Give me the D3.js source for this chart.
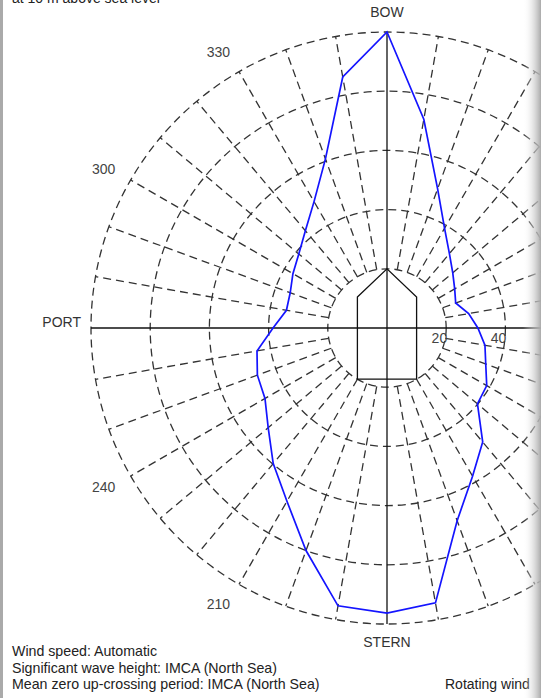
<!DOCTYPE html>
<html>
<head>
<meta charset="utf-8">
<script src="https://cdn.jsdelivr.net/npm/d3@7"></script>
<style>
  body { margin: 0; background: #fff; }
  text { font-family: "Liberation Sans", Arial, sans-serif; }
</style>
</head>
<body>
<div id="chart"></div>
<script>
// headings (degrees, clockwise from bow) and wind response values
const headings = d3.range(0, 360, 10);
const windValues = [100, 71.6, 50, 38.9, 32.8, 29, 26.4, 24.7, 28, 30.7, 33.6, 35.5,
                    38.9, 39.9, 50.3, 57.8, 69.3, 94.3, 96.3, 95.3, 80, 67.6, 59.8, 52.4,
                    47.6, 46.6, 44.6, 38.5, 34.5, 34.8, 36.7, 38.9, 42.9, 49.3, 60.8, 86.1];
const ringTicks = [20, 40, 60, 80, 100];
const ringLabels = [20, 40];
const angleLabels = [210, 240, 300, 330];
const sideLabels = [
    {angle: 0, text: 'BOW'},
    {angle: 180, text: 'STERN'},
    {angle: 270, text: 'PORT'}
];
// ship outline in chart units (x across, y forward)
const shipOutline = [[-10, 10.5], [0, 20], [10, 10.5], [10, -17.3], [-10, -17.3]];
const infoLines = [
    'Wind speed: Automatic',
    'Significant wave height: IMCA (North Sea)',
    'Mean zero up-crossing period: IMCA (North Sea)'
];
const headerText = 'at 10 m above sea level';
const footerRight = 'Rotating wind';

class PolarChart {
    constructor(config) {
        this.config = config;
        this.width = config.width;
        this.height = config.height;
        this.cx = config.cx;
        this.cy = config.cy;
        this.radius = config.radius;
        this.svg = null;
        this.rScale = null;
        this.createSvg();
    }

    createSvg() {
        this.svg = d3.select(this.config.div)
            .append('svg')
            .attr('width', this.width)
            .attr('height', this.height);
        this.svg.append('rect')
            .attr('width', this.width)
            .attr('height', this.height)
            .attr('fill', '#fff');
        this.g = this.svg.append('g')
            .attr('transform', `translate(${this.cx},${this.cy})`);
    }

    createScales() {
        this.rScale = d3.scaleLinear().domain([0, d3.max(ringTicks)]).range([0, this.radius]);
        this.aScale = d3.scaleLinear().domain([0, 360]).range([0, 2 * Math.PI]);
    }

    point(angle, value) {
        const a = this.aScale(angle);
        const r = this.rScale(value);
        return [r * Math.sin(a), -r * Math.cos(a)];
    }

    createGrid() {
        const dash = '8,5';
        this.g.selectAll('circle.ring')
            .data(ringTicks)
            .join('circle')
            .attr('class', 'ring')
            .attr('r', d => this.rScale(d))
            .attr('fill', 'none')
            .attr('stroke', '#333')
            .attr('stroke-width', 1.3)
            .attr('stroke-dasharray', dash);

        const spokes = headings.filter(d => d % 90 !== 0);
        this.g.selectAll('line.spoke')
            .data(spokes)
            .join('line')
            .attr('class', 'spoke')
            .attr('x1', d => this.point(d, ringTicks[0])[0])
            .attr('y1', d => this.point(d, ringTicks[0])[1])
            .attr('x2', d => this.point(d, d3.max(ringTicks))[0])
            .attr('y2', d => this.point(d, d3.max(ringTicks))[1])
            .attr('stroke', '#333')
            .attr('stroke-width', 1.3)
            .attr('stroke-dasharray', dash);

        // solid bow-stern and port-starboard axes
        this.g.selectAll('line.axis')
            .data([[0, 180], [90, 270]])
            .join('line')
            .attr('class', 'axis')
            .attr('x1', d => this.point(d[0], d3.max(ringTicks))[0])
            .attr('y1', d => this.point(d[0], d3.max(ringTicks))[1])
            .attr('x2', d => this.point(d[1], d3.max(ringTicks))[0])
            .attr('y2', d => this.point(d[1], d3.max(ringTicks))[1])
            .attr('stroke', '#111')
            .attr('stroke-width', 1.3);
    }

    createShip() {
        this.g.append('path')
            .attr('d', d3.line()
                .x(d => this.rScale(d[0]))
                .y(d => -this.rScale(d[1]))
                .curve(d3.curveLinearClosed)(shipOutline))
            .attr('fill', 'none')
            .attr('stroke', '#111')
            .attr('stroke-width', 1.3);
    }

    createLabels() {
        this.g.selectAll('text.ringlabel')
            .data(ringLabels)
            .join('text')
            .attr('class', 'ringlabel')
            .attr('x', d => this.rScale(d) + 1)
            .attr('y', 15)
            .attr('text-anchor', 'end')
            .attr('font-size', 14)
            .attr('fill', '#444')
            .text(d => d);

        this.g.selectAll('text.anglelabel')
            .data(angleLabels)
            .join('text')
            .attr('class', 'anglelabel')
            .attr('x', d => this.point(d, 106)[0])
            .attr('y', d => this.point(d, 107.5)[1])
            .attr('text-anchor', 'end')
            .attr('dominant-baseline', 'central')
            .attr('font-size', 14)
            .attr('fill', '#444')
            .text(d => d);

        const side = this.g.selectAll('text.side')
            .data(sideLabels)
            .join('text')
            .attr('class', 'side')
            .attr('font-size', 14)
            .attr('fill', '#333')
            .text(d => d.text);
        side.filter(d => d.angle === 0)
            .attr('x', 0).attr('y', -this.radius - 15).attr('text-anchor', 'middle');
        side.filter(d => d.angle === 180)
            .attr('x', 0).attr('y', this.radius + 23).attr('text-anchor', 'middle');
        side.filter(d => d.angle === 270)
            .attr('x', -this.radius - 10).attr('y', -1).attr('text-anchor', 'end');
    }

    createResponse() {
        const pts = headings.map((h, i) => this.point(h, windValues[i]));
        this.g.append('path')
            .attr('d', d3.line().curve(d3.curveLinearClosed)(pts))
            .attr('fill', 'none')
            .attr('stroke', '#1414ff')
            .attr('stroke-width', 1.7);
    }

    createNotes() {
        this.svg.append('text')
            .attr('x', 12).attr('y', 3)
            .attr('font-size', 14).attr('fill', '#222')
            .text(headerText);
        this.svg.selectAll('text.info')
            .data(infoLines)
            .join('text')
            .attr('class', 'info')
            .attr('x', 12)
            .attr('y', (d, i) => 656 + i * 16.5)
            .attr('font-size', 14.2)
            .attr('fill', '#222')
            .text(d => d);
        this.svg.append('text')
            .attr('x', 445).attr('y', 689)
            .attr('font-size', 14).attr('fill', '#222')
            .text(footerRight);
    }

    createFrame() {
        const grad = this.svg.append('defs').append('linearGradient')
            .attr('id', 'edge').attr('x1', 0).attr('x2', 1).attr('y1', 0).attr('y2', 0);
        grad.append('stop').attr('offset', 0).attr('stop-color', '#fff').attr('stop-opacity', 0);
        grad.append('stop').attr('offset', 1).attr('stop-color', '#aaa').attr('stop-opacity', 1);
        this.svg.append('rect')
            .attr('x', this.width - 18).attr('y', 0)
            .attr('width', 18).attr('height', this.height)
            .attr('fill', 'url(#edge)');
        this.svg.append('rect')
            .attr('x', 0).attr('y', 0)
            .attr('width', 3).attr('height', this.height)
            .attr('fill', '#aaa');
    }
}

function startPolarChart(config) {
    const chart = new PolarChart(config);
    chart.createScales();
    chart.createGrid();
    chart.createShip();
    chart.createResponse();
    chart.createLabels();
    chart.createNotes();
    chart.createFrame();
}

startPolarChart({div: '#chart', width: 541, height: 698, cx: 387, cy: 328, radius: 296});
</script>
</body>
</html>
